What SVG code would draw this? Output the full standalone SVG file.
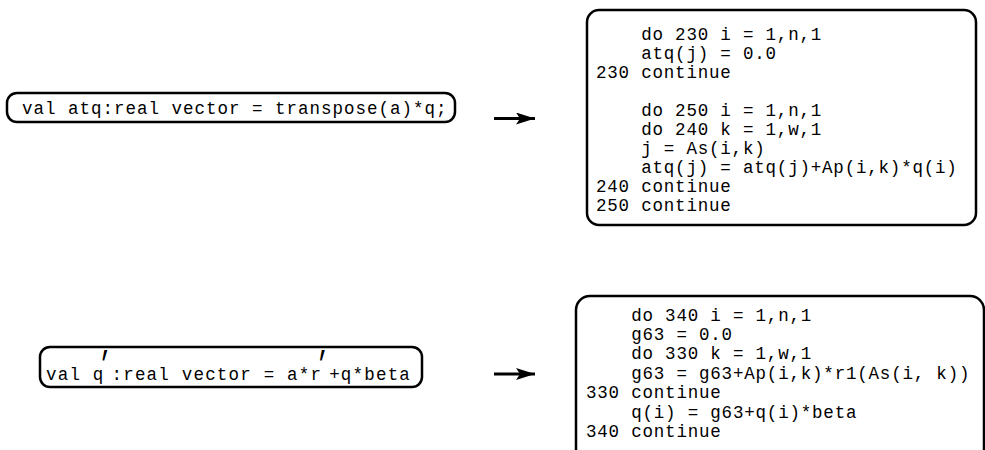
<svg xmlns="http://www.w3.org/2000/svg" width="985" height="450" viewBox="0 0 985 450">
<style>
.box{fill:#fff;stroke:#000;stroke-width:2.5}
.t{font-family:"Liberation Mono","DejaVu Sans Mono",monospace;font-size:17.5px;letter-spacing:0.8px;fill:#000;white-space:pre}
.w{letter-spacing:1px}
.w2{letter-spacing:1.2px}
.p{font-family:"DejaVu Sans",sans-serif;font-size:22px;font-weight:bold;fill:#000}
.conn{stroke:#000;stroke-width:3;fill:none}
</style>
<defs>
<marker id="ah" viewBox="0 0 19 12" refX="19" refY="6" markerWidth="19" markerHeight="12" markerUnits="userSpaceOnUse" orient="auto">
<path d="M0,0 L19,6 L0,12 L4,6 Z" fill="#000"/>
</marker>
</defs>
<rect width="985" height="450" fill="#fff"/>
<g id="src1">
<rect class="box" x="7" y="93" width="448" height="29" rx="10"/>
<text class="t w" x="22" y="113.5" xml:space="preserve">val atq:real vector = transpose(a)*q;</text>
</g>
<g id="out1">
<rect class="box" x="587" y="10" width="389" height="215" rx="12"/>
<text class="t" x="596" y="40" xml:space="preserve">    do 230 i = 1,n,1</text>
<text class="t" x="596" y="59" xml:space="preserve">    atq(j) = 0.0</text>
<text class="t" x="596" y="78" xml:space="preserve">230 continue</text>
<text class="t" x="596" y="116" xml:space="preserve">    do 250 i = 1,n,1</text>
<text class="t" x="596" y="135" xml:space="preserve">    do 240 k = 1,w,1</text>
<text class="t" x="596" y="154" xml:space="preserve">    j = As(i,k)</text>
<text class="t" x="596" y="173" xml:space="preserve">    atq(j) = atq(j)+Ap(i,k)*q(i)</text>
<text class="t" x="596" y="192" xml:space="preserve">240 continue</text>
<text class="t" x="596" y="211" xml:space="preserve">250 continue</text>
</g>
<g id="src2">
<rect class="box" x="40" y="347" width="382" height="40" rx="10"/>
<text class="t w2" x="46" y="380" xml:space="preserve">val q<tspan dx="7">:real vector = a*r</tspan><tspan dx="7">+q*beta</tspan></text>
<text class="p" transform="translate(102,391.5) scale(1,2.6)">′</text>
<text class="p" transform="translate(319.5,391.5) scale(1,2.6)">′</text>
</g>
<g id="out2">
<rect class="box" x="576" y="296" width="408" height="170" rx="14"/>
<text class="t" x="586" y="321" xml:space="preserve">    do 340 i = 1,n,1</text>
<text class="t" x="586" y="340" xml:space="preserve">    g63 = 0.0</text>
<text class="t" x="586" y="359" xml:space="preserve">    do 330 k = 1,w,1</text>
<text class="t" x="586" y="379" xml:space="preserve">    g63 = g63+Ap(i,k)*r1(As(i, k))</text>
<text class="t" x="586" y="398" xml:space="preserve">330 continue</text>
<text class="t" x="586" y="418" xml:space="preserve">    q(i) = g63+q(i)*beta</text>
<text class="t" x="586" y="437" xml:space="preserve">340 continue</text>
</g>
<g id="connectors">
<line class="conn" x1="494" y1="118.5" x2="535" y2="118.5" marker-end="url(#ah)"/>
<line class="conn" x1="494" y1="374" x2="535" y2="374" marker-end="url(#ah)"/>
</g>
</svg>
